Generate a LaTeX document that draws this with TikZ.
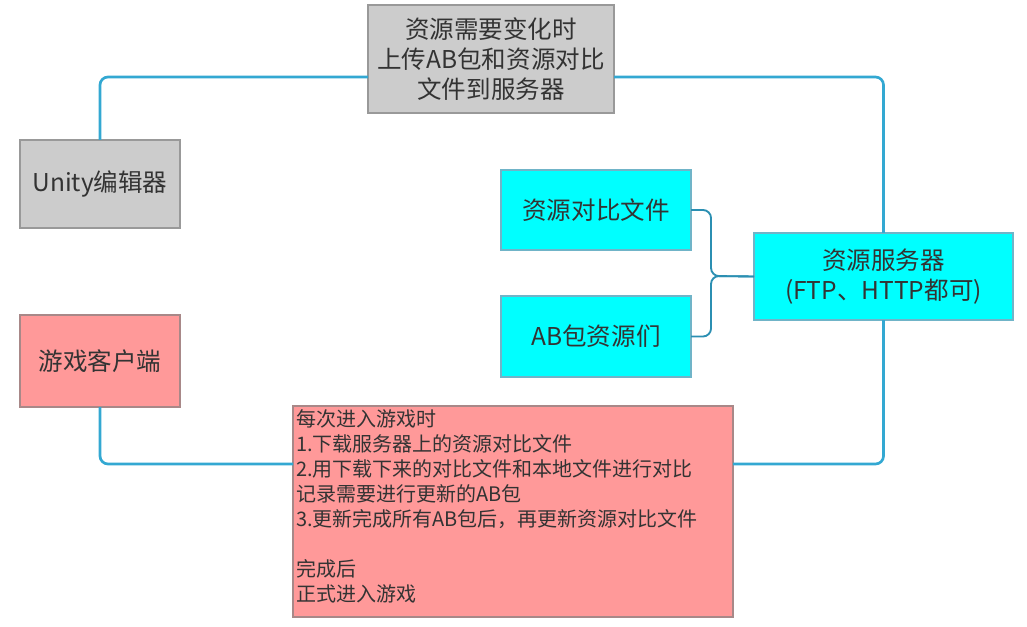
\documentclass[tikz,border=0pt]{standalone}
\usepackage{fontspec}
\setmainfont{Noto Sans CJK SC}
\usetikzlibrary{calc}
\definecolor{linkblue}{HTML}{33A8D2}
\definecolor{grayfill}{HTML}{CCCCCC}
\definecolor{grayline}{HTML}{999999}
\definecolor{cyanfill}{HTML}{00FFFF}
\definecolor{cyanline}{HTML}{70B4C8}
\definecolor{pinkfill}{HTML}{FF9999}
\definecolor{pinkline}{HTML}{A88888}
\definecolor{txt}{HTML}{333333}
\begin{document}
\begin{tikzpicture}[x=0.75pt,y=-0.75pt,
  box/.style={rectangle,draw,line width=0.9pt,inner sep=0pt,outer sep=0pt,align=center,text=txt,
    font=\fontsize{18.4}{22.5}\selectfont},
  graybox/.style={box,fill=grayfill,draw=grayline},
  cyanbox/.style={box,fill=cyanfill,draw=cyanline},
  pinkbox/.style={box,fill=pinkfill,draw=pinkline},
  link/.style={draw=linkblue,line width=2pt,rounded corners=6pt},
  bracelink/.style={draw=linkblue!85!black,line width=1.4pt,rounded corners=6pt}]
\useasboundingbox (0,0) rectangle (1027,627);

\node[graybox,minimum width=120pt,minimum height=66pt] (unity) at (100,184) {Unity编辑器};
\node[graybox,minimum width=184.5pt,minimum height=81pt] (upload) at (491,59)
  {资源需要变化时\\上传AB包和资源对比\\文件到服务器};
\node[cyanbox,minimum width=142.5pt,minimum height=60pt] (cmp) at (596,210) {资源对比文件};
\node[cyanbox,minimum width=142.5pt,minimum height=60.75pt] (ab) at (596,336.5) {AB包资源们};
\node[cyanbox,minimum width=194.25pt,minimum height=65.25pt] (srv) at (883.5,276.5)
  {资源服务器\\(FTP、HTTP都可)};
\node[pinkbox,minimum width=120pt,minimum height=69pt] (client) at (100,361) {游戏客户端};
\node[pinkbox,inner xsep=2.25pt,inner ysep=0pt,align=left,
  font=\fontsize{15}{18.75}\selectfont] (steps) at (513,511.5)
  {\parbox[c][158.25pt][t]{325.5pt}{\raggedright\vspace*{3pt}
  每次进入游戏时\\
  1.下载服务器上的资源对比文件\\
  2.用下载下来的对比文件和本地文件进行对比\\
  记录需要进行更新的AB包\\
  3.更新完成所有AB包后，再更新资源对比文件\\
  \mbox{}\\
  完成后\\
  正式进入游戏}};

\coordinate (upin) at (368,77);
\coordinate (upout) at (614,77);
\coordinate (stepin) at (293,464);
\coordinate (stepout) at (733,464);
\coordinate (junction) at (711,276);

\draw[link] (unity.north) |- (upin);
\draw[link] (upout) -| (srv.north);
\draw[link] (client.south) |- (stepin);
\draw[link] (stepout) -| (srv.south);
\draw[bracelink] (cmp.east) -| (junction) -- (srv.west);
\draw[bracelink] (ab.east) -| (junction) -- (srv.west);
\end{tikzpicture}
\end{document}
